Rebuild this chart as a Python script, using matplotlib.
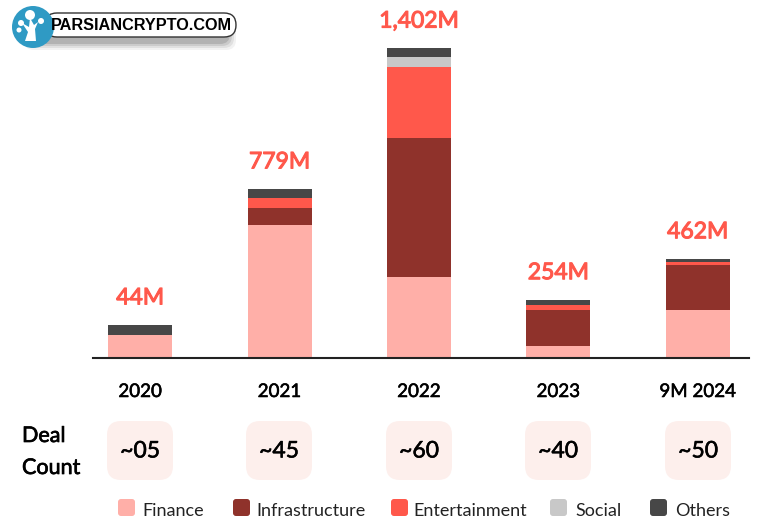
import matplotlib
matplotlib.use("Agg")
import matplotlib.pyplot as plt
import matplotlib.patheffects as pe
from matplotlib.patches import FancyBboxPatch, Circle, Polygon

plt.rcParams["font.family"] = ["Lato", "DejaVu Sans"]

periods = ["2020", "2021", "2022", "2023", "9M 2024"]
totals = ["44M", "779M", "1,402M", "254M", "462M"]
deal_counts = ["~05", "~45", "~60", "~40", "~50"]

# values in $M (the 2020 bar is not to scale with its label)
finance = [104, 601, 366, 54, 217]
infrastructure = [0, 77, 628, 163, 203]
entertainment = [0, 45, 321, 23, 14]
social = [0, 0, 45, 0, 0]
others = [45, 41, 41, 23, 14]

names = ["Finance", "Infrastructure", "Entertainment", "Social", "Others"]
colors = ["#FFAFA8", "#8F322B", "#FF584B", "#C8C8C8", "#474747"]
red = "#FF584B"


def thicken(color, lw=0.5):
    # the installed Lato has no heavier cut, so fatten the glyphs a little
    return [pe.withStroke(linewidth=lw, foreground=color)]


W, H = 763, 528
fig = plt.figure(figsize=(W / 100, H / 100), dpi=100)

# bars, axes placed so baseline sits at y=358px
ax = fig.add_axes([93 / W, 1 - 358 / H, (749 - 93) / W, 358 / H])
xs = list(range(len(periods)))
bottom = [0] * len(periods)
for name, vals, c in zip(names, [finance, infrastructure, entertainment, social, others], colors):
    ax.bar(xs, vals, 0.459, bottom=bottom, color=c, label=name)
    bottom = [b + v for b, v in zip(bottom, vals)]

for x, top, label in zip(xs, bottom, totals):
    ax.annotate(label, (x, top), xytext=(0, 12), textcoords="offset points", ha="center", va="bottom",
                color=red, fontsize=16.5, annotation_clip=False, path_effects=thicken(red, 0.8))

ax.set_xlim(-0.338, 4.368)
ax.set_ylim(0, 1402 * 358 / 310)
ax.set_xticks(xs, periods, fontsize=13.5, color="black")
for t in ax.get_xticklabels():
    t.set_path_effects(thicken("black", 0.4))
ax.tick_params(axis="x", length=0, pad=18)
ax.set_yticks([])
for side in ["top", "left", "right"]:
    ax.spines[side].set_visible(False)
ax.spines["bottom"].set_linewidth(1.5)
ax.spines["bottom"].set_color("#222222")

# overlay in pixel coordinates for the deal count row, legend and logo
ov = fig.add_axes([0, 0, 1, 1], facecolor="none")
ov.set_xlim(0, W)
ov.set_ylim(H, 0)
ov.axis("off")

pill_x = [140, 279, 419, 558, 698]
for x, count in zip(pill_x, deal_counts):
    ov.add_patch(FancyBboxPatch((x - 33, 421), 66, 59, boxstyle="round,pad=0,rounding_size=14",
                                mutation_scale=1, fc="#FDEFEC", ec="none"))
    ov.text(x, 451, count, ha="center", va="center", fontsize=16.5, path_effects=thicken("black", 0.4))

ov.text(22, 436, "Deal", ha="left", va="center", fontsize=15.5, path_effects=thicken("black", 0.5))
ov.text(22, 468, "Count", ha="left", va="center", fontsize=15.5, path_effects=thicken("black", 0.5))

swatch_x = [118, 233, 391, 550, 650]
label_x = [142, 256, 413, 575, 675]
for sx, lx, name, c in zip(swatch_x, label_x, names, colors):
    ov.add_patch(FancyBboxPatch((sx + 3, 502), 11, 11, boxstyle="round,pad=3", mutation_scale=1, fc=c, ec="none"))
    ov.text(lx, 511, name, ha="left", va="center", fontsize=13, color="#222222")

# logo
for pad, a in [(8, 0.05), (6, 0.07), (4, 0.09), (2, 0.12)]:
    ov.add_patch(FancyBboxPatch((32, 26), 196, 16, boxstyle=f"round,pad={pad},rounding_size=10",
                                mutation_scale=1, fc="black", ec="none", alpha=a))
ov.add_patch(FancyBboxPatch((45, 13), 191, 24, boxstyle="round,pad=0,rounding_size=12", mutation_scale=1,
                            fc="white", ec="#333333", lw=1))
ov.add_patch(Circle((33, 27), 21, fc="#2F9AC4", ec="none", zorder=3))
ov.add_patch(Polygon([[25, 41], [36, 41], [35, 29], [38, 22], [34, 25], [30, 18], [29, 27], [22, 23], [28, 32]],
                     fc="white", ec="none", zorder=4))
for cx, cy, r in [(30, 15, 5), (21, 23, 3), (41, 21, 3), (19, 30, 2.5)]:
    ov.add_patch(Circle((cx, cy), r, fc="white", ec="none", zorder=4))
ov.text(141, 25.5, "PARSIANCRYPTO.COM", ha="center", va="center", fontsize=11.7, fontweight="bold",
        family=["Liberation Sans", "DejaVu Sans"], zorder=5)

fig.savefig("out.png", dpi=100)
